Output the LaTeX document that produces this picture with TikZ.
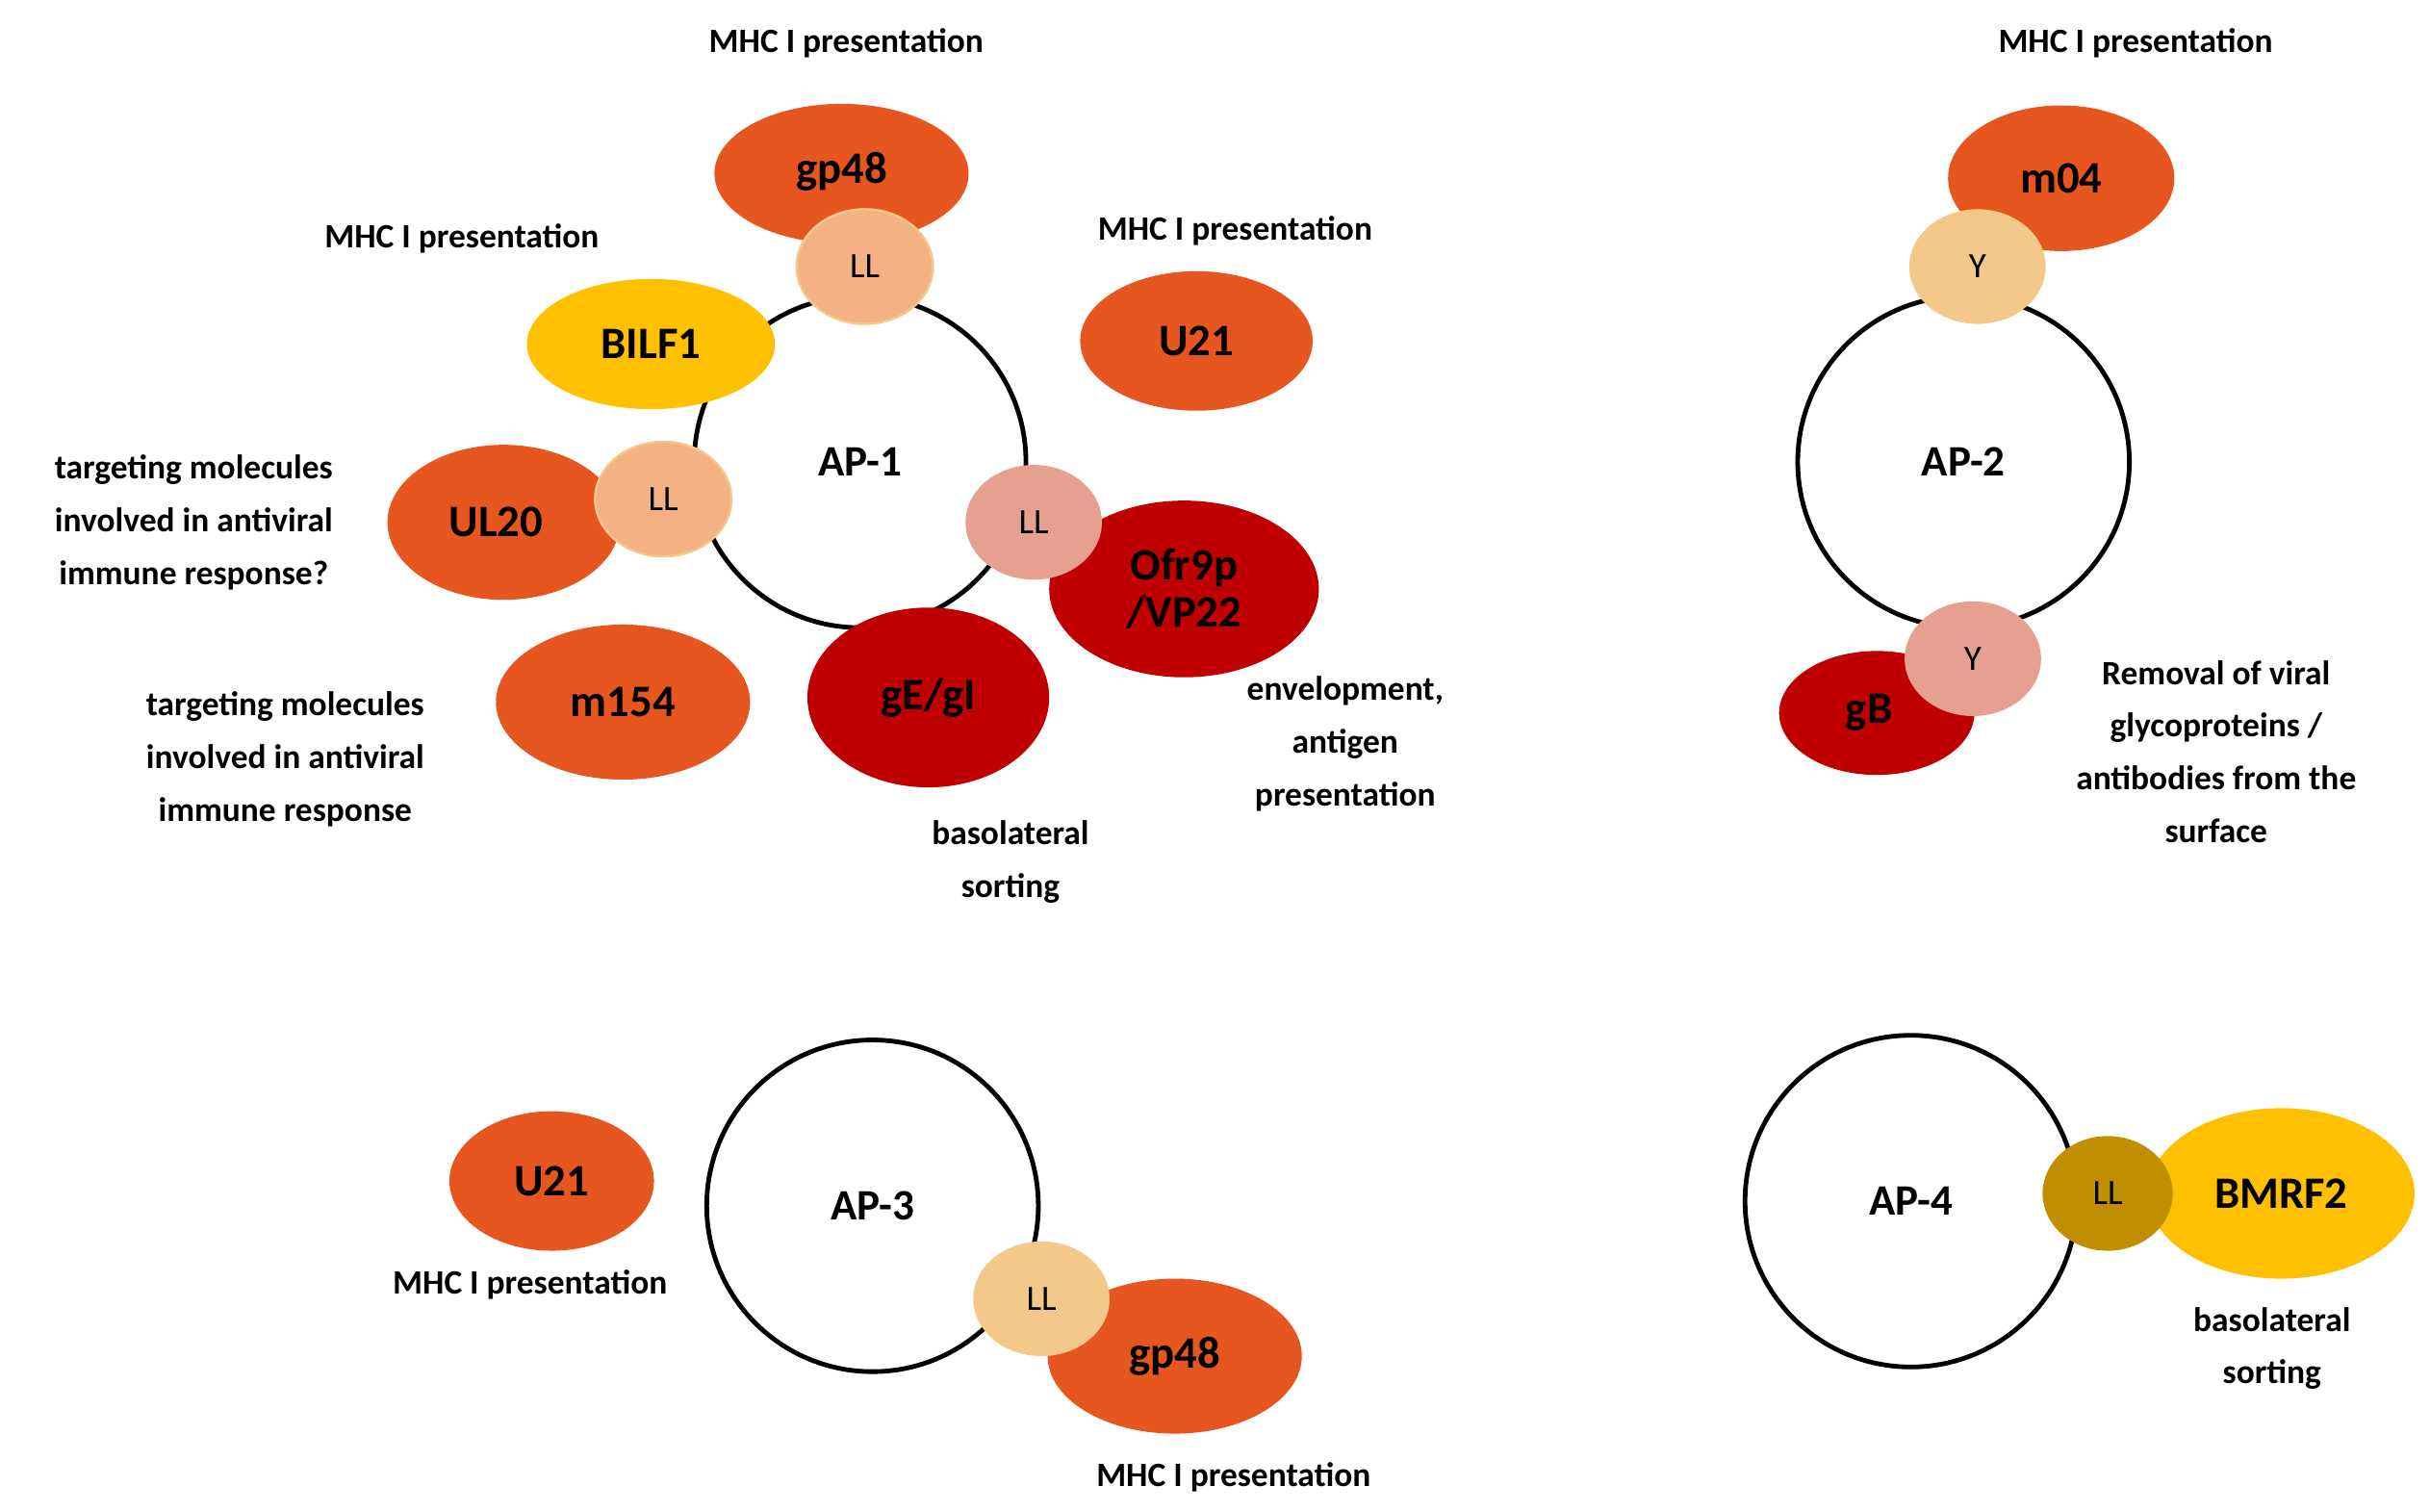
\documentclass[tikz,border=0pt]{standalone}
\usepackage{fontspec}
\setmainfont{Carlito}
\usetikzlibrary{shapes.geometric}
\definecolor{orng}{HTML}{E8561F}
\definecolor{dred}{HTML}{C00000}
\definecolor{gold}{HTML}{FFC000}
\definecolor{peach}{HTML}{F4B183}
\definecolor{salmon}{HTML}{E6A08F}
\definecolor{tan}{HTML}{F2C98A}
\definecolor{olive}{HTML}{BF8F00}
\tikzset{
 ap/.style={circle,draw=black,line width=3pt,fill=white,minimum size=214pt,inner sep=0,font=\fontsize{28}{30}\selectfont\bfseries},
 prot/.style={ellipse,inner sep=0,font=\fontsize{29}{30}\selectfont\bfseries,align=center},
 mot/.style={ellipse,inner sep=0,minimum width=88pt,minimum height=74pt,font=\fontsize{23}{24}\selectfont},
 lab/.style={align=center,font=\fontsize{22}{34}\selectfont\bfseries}
}
\begin{document}
\begin{tikzpicture}[x=1pt,y=-1pt]
\useasboundingbox (0,0) rectangle (1568,975);
% AP-1
\node[ap] (ap1) at (555,298) {};
\node[prot,fill=orng,minimum width=164pt,minimum height=90pt] (gp48a) at (543,112) {\raisebox{8pt}{gp48}};
\node[prot,fill=gold,minimum width=160pt,minimum height=84pt] (bilf1) at (420,222) {BILF1};
\node[prot,fill=orng,minimum width=150pt,minimum height=90pt] (u21a) at (772,220) {U21};
\node[prot,fill=orng,minimum width=150pt,minimum height=100pt] (ul20) at (325,337) {\hspace*{-10pt}UL20};
\node[prot,fill=dred,minimum width=174pt,minimum height=114pt] (ofr) at (764,380) {Ofr9p\\/VP22};
\node[prot,fill=orng,minimum width=164pt,minimum height=100pt] (m154) at (402,453) {m154};
\node[prot,fill=dred,minimum width=156pt,minimum height=116pt] (ge) at (599,450) {gE/gI};
\node at (555,298) {\fontsize{28}{30}\selectfont\bfseries AP-1};
\node[mot,fill=peach,draw=tan,line width=1.5pt] (ll1) at (558,172) {LL};
\node[mot,fill=peach,draw=tan,line width=1.5pt] (ll2) at (428,322) {LL};
\node[mot,fill=salmon] (ll3) at (667,337) {LL};
\node[lab] (t1) at (546,28) {MHC I presentation};
\node[lab] (t2) at (298,154) {MHC I presentation};
\node[lab] (t3) at (797,149) {MHC I presentation};
\node[lab] (t4) at (125,337) {targeting molecules\\involved in antiviral\\immune response?};
\node[lab] (t5) at (184,490) {targeting molecules\\involved in antiviral\\immune response};
\node[lab] (t6) at (652,556) {basolateral\\sorting};
\node[lab] (t7) at (868,480) {envelopment,\\antigen\\presentation};
% AP-2
\node[ap] (ap2) at (1267,298) {AP-2};
\node[prot,fill=orng,minimum width=146pt,minimum height=94pt] (m04) at (1330,115) {m04};
\node[prot,fill=dred,minimum width=126pt,minimum height=80pt] (gb) at (1211,460) {\hspace*{-10pt}gB};
\node[mot,fill=tan] (y1) at (1276,172) {Y};
\node[mot,fill=salmon] (y2) at (1273,425) {Y};
\node[lab] (t8) at (1378,28) {MHC I presentation};
\node[lab] (t9) at (1430,485) {Removal of viral\\glycoproteins /\\antibodies from the\\surface};
% AP-3
\node[ap] (ap3) at (563,778) {AP-3};
\node[prot,fill=orng,minimum width=132pt,minimum height=90pt] (u21b) at (356,762) {U21};
\node[prot,fill=orng,minimum width=164pt,minimum height=100pt] (gp48b) at (758,875) {gp48};
\node[mot,fill=tan] (ll4) at (672,838) {LL};
\node[lab] (t10) at (342,829) {MHC I presentation};
\node[lab] (t11) at (796,953) {MHC I presentation};
% AP-4
\node[ap] (ap4) at (1233,775) {AP-4};
\node[prot,fill=gold,minimum width=172pt,minimum height=110pt] (bmrf) at (1472,770) {BMRF2};
\node[mot,fill=olive,minimum width=84pt] (ll5) at (1360,770) {LL};
\node[lab] (t12) at (1466,870) {basolateral\\sorting};
\end{tikzpicture}
\end{document}
